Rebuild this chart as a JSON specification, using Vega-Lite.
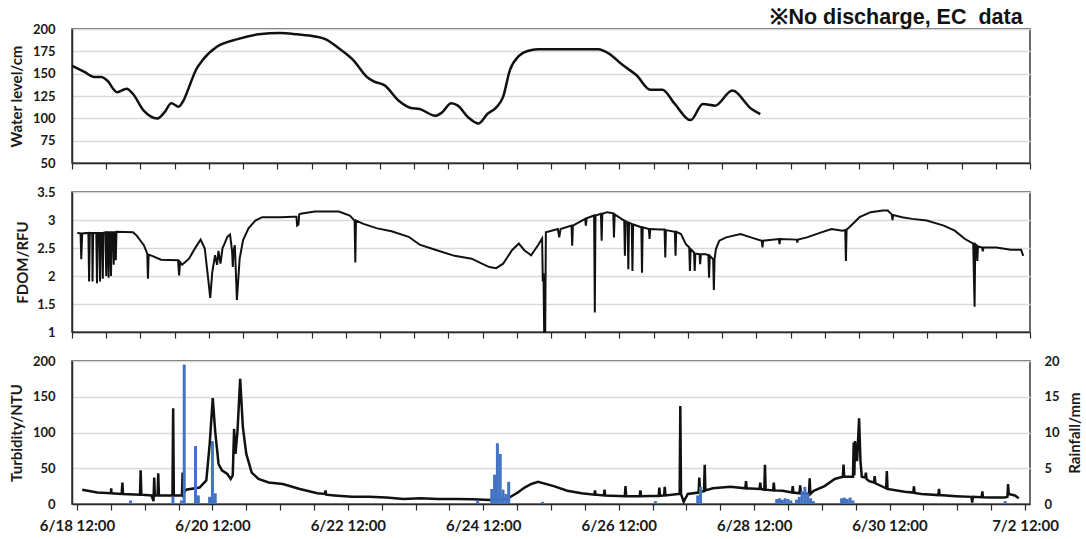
{
  "$schema": "https://vega.github.io/schema/vega-lite/v6.json",
  "padding": {"left": 8, "top": 5, "right": 4, "bottom": 4},
  "background": "white",
  "spacing": 14,
  "config": {
    "font": "Lato",
    "view": {"stroke": "#3a3a3a", "strokeWidth": 1.5},
    "axis": {
      "labelFont": "Lato", "labelFontWeight": "bold", "labelColor": "#1a1a1a",
      "titleFont": "Lato", "titleFontWeight": "bold", "titleColor": "#1a1a1a",
      "domainColor": "#2a2a2a", "domainWidth": 1.5, "tickColor": "#2a2a2a", "tickWidth": 1.2,
      "gridColor": "#d9d9d9", "gridWidth": 1.5
    }
  },
  "datasets": {
    "wl": [
      {"t": "2020-06-18T12:00", "v": 159}, {"t": "2020-06-18T16:20", "v": 152}, {"t": "2020-06-18T19:55", "v": 146.3},
      {"t": "2020-06-18T22:20", "v": 146.3}, {"t": "2020-06-19T00:15", "v": 142.6}, {"t": "2020-06-19T03:50", "v": 129.3},
      {"t": "2020-06-19T07:10", "v": 133.1}, {"t": "2020-06-19T09:20", "v": 127.5}, {"t": "2020-06-19T13:10", "v": 108.6},
      {"t": "2020-06-19T18:00", "v": 99.9}, {"t": "2020-06-19T20:25", "v": 106.7}, {"t": "2020-06-19T22:50", "v": 116.9},
      {"t": "2020-06-20T01:25", "v": 113.1}, {"t": "2020-06-20T03:05", "v": 119.9}, {"t": "2020-06-20T05:30", "v": 138.8},
      {"t": "2020-06-20T07:25", "v": 153.9}, {"t": "2020-06-20T09:50", "v": 165.2}, {"t": "2020-06-20T14:55", "v": 180.3},
      {"t": "2020-06-20T22:05", "v": 188.7}, {"t": "2020-06-21T05:30", "v": 194}, {"t": "2020-06-21T13:00", "v": 195.5},
      {"t": "2020-06-21T19:00", "v": 194}, {"t": "2020-06-22T01:10", "v": 191.7}, {"t": "2020-06-22T04:50", "v": 188.7},
      {"t": "2020-06-22T09:35", "v": 178.5}, {"t": "2020-06-22T14:40", "v": 165.2}, {"t": "2020-06-22T19:25", "v": 146.3},
      {"t": "2020-06-22T21:50", "v": 141.4}, {"t": "2020-06-23T01:40", "v": 136.9}, {"t": "2020-06-23T06:30", "v": 119.9},
      {"t": "2020-06-23T10:50", "v": 111.6}, {"t": "2020-06-23T13:55", "v": 110.5}, {"t": "2020-06-23T19:25", "v": 102.9},
      {"t": "2020-06-23T21:50", "v": 106.7}, {"t": "2020-06-24T01:00", "v": 116.9}, {"t": "2020-06-24T03:20", "v": 114.2},
      {"t": "2020-06-24T07:00", "v": 101}, {"t": "2020-06-24T10:35", "v": 94.2}, {"t": "2020-06-24T13:40", "v": 104.8},
      {"t": "2020-06-24T16:50", "v": 112.3}, {"t": "2020-06-24T19:10", "v": 123.7}, {"t": "2020-06-24T21:35", "v": 153.9},
      {"t": "2020-06-25T00:45", "v": 169.8}, {"t": "2020-06-25T03:50", "v": 175.4}, {"t": "2020-06-25T07:25", "v": 177.3},
      {"t": "2020-06-25T21:05", "v": 177.3}, {"t": "2020-06-26T04:35", "v": 177.3}, {"t": "2020-06-26T08:10", "v": 172.8},
      {"t": "2020-06-26T13:10", "v": 159.6}, {"t": "2020-06-26T18:00", "v": 148.2}, {"t": "2020-06-26T22:50", "v": 132},
      {"t": "2020-06-27T03:05", "v": 132}, {"t": "2020-06-27T07:25", "v": 116.1}, {"t": "2020-06-27T13:00", "v": 98},
      {"t": "2020-06-27T17:15", "v": 116.1}, {"t": "2020-06-27T21:35", "v": 114.2}, {"t": "2020-06-28T03:35", "v": 131.2},
      {"t": "2020-06-28T10:20", "v": 110.5}, {"t": "2020-06-28T13:25", "v": 104.8}
    ],
    "fdom": [
      {"t": "2020-06-18T13:50", "v": 2.77}, {"t": "2020-06-18T15:00", "v": 2.76}, {"t": "2020-06-18T15:15", "v": 2.30},
      {"t": "2020-06-18T15:35", "v": 2.76}, {"t": "2020-06-18T17:45", "v": 2.77}, {"t": "2020-06-18T18:00", "v": 1.90},
      {"t": "2020-06-18T18:15", "v": 2.77}, {"t": "2020-06-18T19:05", "v": 2.77}, {"t": "2020-06-18T19:12", "v": 1.90},
      {"t": "2020-06-18T19:26", "v": 2.77}, {"t": "2020-06-18T20:31", "v": 2.77}, {"t": "2020-06-18T20:46", "v": 1.87},
      {"t": "2020-06-18T21:00", "v": 2.77}, {"t": "2020-06-18T21:36", "v": 2.77}, {"t": "2020-06-18T21:50", "v": 1.90},
      {"t": "2020-06-18T22:05", "v": 2.77}, {"t": "2020-06-18T22:34", "v": 2.77}, {"t": "2020-06-18T22:48", "v": 1.95},
      {"t": "2020-06-18T23:02", "v": 2.77}, {"t": "2020-06-18T23:46", "v": 2.78}, {"t": "2020-06-19T00:00", "v": 2.00},
      {"t": "2020-06-19T00:14", "v": 2.78}, {"t": "2020-06-19T00:36", "v": 2.78}, {"t": "2020-06-19T00:50", "v": 1.97},
      {"t": "2020-06-19T01:05", "v": 2.78}, {"t": "2020-06-19T01:26", "v": 2.78}, {"t": "2020-06-19T01:41", "v": 2.00},
      {"t": "2020-06-19T01:55", "v": 2.78}, {"t": "2020-06-19T02:24", "v": 2.78}, {"t": "2020-06-19T02:38", "v": 2.20},
      {"t": "2020-06-19T02:53", "v": 2.78}, {"t": "2020-06-19T03:14", "v": 2.78}, {"t": "2020-06-19T03:22", "v": 2.28},
      {"t": "2020-06-19T03:36", "v": 2.79}, {"t": "2020-06-19T09:22", "v": 2.78}, {"t": "2020-06-19T10:34", "v": 2.73},
      {"t": "2020-06-19T13:12", "v": 2.55}, {"t": "2020-06-19T14:24", "v": 2.40}, {"t": "2020-06-19T14:38", "v": 1.95},
      {"t": "2020-06-19T14:53", "v": 2.38}, {"t": "2020-06-19T16:05", "v": 2.36}, {"t": "2020-06-19T19:12", "v": 2.29},
      {"t": "2020-06-20T01:12", "v": 2.28}, {"t": "2020-06-20T01:34", "v": 2.01}, {"t": "2020-06-20T01:55", "v": 2.25},
      {"t": "2020-06-20T02:38", "v": 2.20}, {"t": "2020-06-20T05:02", "v": 2.31}, {"t": "2020-06-20T07:26", "v": 2.52},
      {"t": "2020-06-20T09:07", "v": 2.65}, {"t": "2020-06-20T10:34", "v": 2.49}, {"t": "2020-06-20T11:46", "v": 1.95},
      {"t": "2020-06-20T12:29", "v": 1.61}, {"t": "2020-06-20T13:12", "v": 2.07}, {"t": "2020-06-20T14:10", "v": 2.37},
      {"t": "2020-06-20T14:53", "v": 2.20}, {"t": "2020-06-20T15:22", "v": 2.45}, {"t": "2020-06-20T16:05", "v": 2.22},
      {"t": "2020-06-20T16:48", "v": 2.50}, {"t": "2020-06-20T17:17", "v": 2.55}, {"t": "2020-06-20T18:29", "v": 2.70},
      {"t": "2020-06-20T19:26", "v": 2.74}, {"t": "2020-06-20T20:10", "v": 2.43}, {"t": "2020-06-20T20:24", "v": 2.16},
      {"t": "2020-06-20T20:38", "v": 2.45}, {"t": "2020-06-20T21:07", "v": 2.55}, {"t": "2020-06-20T21:50", "v": 1.57},
      {"t": "2020-06-20T22:48", "v": 2.31}, {"t": "2020-06-21T00:00", "v": 2.64}, {"t": "2020-06-21T01:55", "v": 2.85},
      {"t": "2020-06-21T04:19", "v": 2.99}, {"t": "2020-06-21T06:43", "v": 3.05}, {"t": "2020-06-21T12:58", "v": 3.05},
      {"t": "2020-06-21T17:46", "v": 3.06}, {"t": "2020-06-21T18:43", "v": 3.06}, {"t": "2020-06-21T18:58", "v": 2.90},
      {"t": "2020-06-21T19:26", "v": 2.92}, {"t": "2020-06-21T19:41", "v": 3.10}, {"t": "2020-06-21T20:10", "v": 3.11},
      {"t": "2020-06-22T01:12", "v": 3.15}, {"t": "2020-06-22T09:36", "v": 3.15}, {"t": "2020-06-22T13:26", "v": 3.08},
      {"t": "2020-06-22T15:07", "v": 2.99}, {"t": "2020-06-22T15:22", "v": 2.24}, {"t": "2020-06-22T15:36", "v": 2.99},
      {"t": "2020-06-22T18:14", "v": 2.93}, {"t": "2020-06-22T23:02", "v": 2.85}, {"t": "2020-06-23T04:05", "v": 2.80},
      {"t": "2020-06-23T10:05", "v": 2.70}, {"t": "2020-06-23T13:55", "v": 2.56}, {"t": "2020-06-23T19:55", "v": 2.46},
      {"t": "2020-06-24T02:10", "v": 2.36}, {"t": "2020-06-24T08:10", "v": 2.31}, {"t": "2020-06-24T11:46", "v": 2.22},
      {"t": "2020-06-24T14:24", "v": 2.16}, {"t": "2020-06-24T16:48", "v": 2.14}, {"t": "2020-06-24T19:12", "v": 2.22},
      {"t": "2020-06-24T22:19", "v": 2.46}, {"t": "2020-06-25T00:43", "v": 2.58}, {"t": "2020-06-25T02:38", "v": 2.46},
      {"t": "2020-06-25T05:02", "v": 2.37}, {"t": "2020-06-25T07:26", "v": 2.55}, {"t": "2020-06-25T08:53", "v": 2.67},
      {"t": "2020-06-25T09:07", "v": 1.90}, {"t": "2020-06-25T09:22", "v": 2.05}, {"t": "2020-06-25T09:36", "v": 1.00},
      {"t": "2020-06-25T09:58", "v": 1.00}, {"t": "2020-06-25T10:12", "v": 2.78}, {"t": "2020-06-25T14:24", "v": 2.84},
      {"t": "2020-06-25T14:53", "v": 2.69}, {"t": "2020-06-25T15:22", "v": 2.84}, {"t": "2020-06-25T19:12", "v": 2.90},
      {"t": "2020-06-25T19:26", "v": 2.54}, {"t": "2020-06-25T19:41", "v": 2.90}, {"t": "2020-06-26T00:00", "v": 3.02},
      {"t": "2020-06-26T00:14", "v": 2.90}, {"t": "2020-06-26T00:29", "v": 3.03}, {"t": "2020-06-26T03:07", "v": 3.08},
      {"t": "2020-06-26T03:22", "v": 1.35}, {"t": "2020-06-26T03:36", "v": 3.08}, {"t": "2020-06-26T05:31", "v": 3.11},
      {"t": "2020-06-26T05:46", "v": 2.63}, {"t": "2020-06-26T06:00", "v": 3.11}, {"t": "2020-06-26T07:41", "v": 3.14},
      {"t": "2020-06-26T09:50", "v": 3.12}, {"t": "2020-06-26T10:05", "v": 2.69}, {"t": "2020-06-26T10:19", "v": 3.10},
      {"t": "2020-06-26T12:43", "v": 3.02}, {"t": "2020-06-26T13:41", "v": 2.99}, {"t": "2020-06-26T13:55", "v": 2.36},
      {"t": "2020-06-26T14:10", "v": 2.98}, {"t": "2020-06-26T14:53", "v": 2.96}, {"t": "2020-06-26T15:07", "v": 2.12},
      {"t": "2020-06-26T15:22", "v": 2.95}, {"t": "2020-06-26T16:19", "v": 2.93}, {"t": "2020-06-26T16:34", "v": 2.09},
      {"t": "2020-06-26T16:48", "v": 2.92}, {"t": "2020-06-26T19:41", "v": 2.87}, {"t": "2020-06-26T19:55", "v": 2.06},
      {"t": "2020-06-26T20:10", "v": 2.87}, {"t": "2020-06-26T22:19", "v": 2.84}, {"t": "2020-06-26T22:34", "v": 2.66},
      {"t": "2020-06-26T22:48", "v": 2.84}, {"t": "2020-06-27T02:10", "v": 2.83}, {"t": "2020-06-27T03:50", "v": 2.83},
      {"t": "2020-06-27T04:05", "v": 2.33}, {"t": "2020-06-27T04:19", "v": 2.82}, {"t": "2020-06-27T07:26", "v": 2.79},
      {"t": "2020-06-27T07:41", "v": 2.36}, {"t": "2020-06-27T07:55", "v": 2.79}, {"t": "2020-06-27T09:36", "v": 2.75},
      {"t": "2020-06-27T11:17", "v": 2.57}, {"t": "2020-06-27T12:29", "v": 2.51}, {"t": "2020-06-27T12:43", "v": 2.09},
      {"t": "2020-06-27T12:58", "v": 2.48}, {"t": "2020-06-27T14:10", "v": 2.42}, {"t": "2020-06-27T14:24", "v": 2.09},
      {"t": "2020-06-27T14:38", "v": 2.40}, {"t": "2020-06-27T16:05", "v": 2.39}, {"t": "2020-06-27T16:19", "v": 2.21},
      {"t": "2020-06-27T16:34", "v": 2.39}, {"t": "2020-06-27T18:14", "v": 2.39}, {"t": "2020-06-27T19:12", "v": 2.37},
      {"t": "2020-06-27T19:26", "v": 1.97}, {"t": "2020-06-27T19:41", "v": 2.36}, {"t": "2020-06-27T20:53", "v": 2.30},
      {"t": "2020-06-27T21:07", "v": 1.75}, {"t": "2020-06-27T21:22", "v": 2.30}, {"t": "2020-06-27T21:50", "v": 2.48},
      {"t": "2020-06-27T23:02", "v": 2.63}, {"t": "2020-06-28T01:26", "v": 2.69}, {"t": "2020-06-28T06:29", "v": 2.75},
      {"t": "2020-06-28T10:05", "v": 2.69}, {"t": "2020-06-28T13:55", "v": 2.63}, {"t": "2020-06-28T14:10", "v": 2.51},
      {"t": "2020-06-28T14:24", "v": 2.63}, {"t": "2020-06-28T19:55", "v": 2.66}, {"t": "2020-06-28T20:10", "v": 2.57},
      {"t": "2020-06-28T20:24", "v": 2.66}, {"t": "2020-06-29T02:10", "v": 2.65}, {"t": "2020-06-29T02:24", "v": 2.60},
      {"t": "2020-06-29T02:38", "v": 2.65}, {"t": "2020-06-29T05:46", "v": 2.69}, {"t": "2020-06-29T10:48", "v": 2.78},
      {"t": "2020-06-29T14:24", "v": 2.84}, {"t": "2020-06-29T18:14", "v": 2.81}, {"t": "2020-06-29T19:12", "v": 2.82},
      {"t": "2020-06-29T19:26", "v": 2.27}, {"t": "2020-06-29T19:41", "v": 2.83}, {"t": "2020-06-29T20:38", "v": 2.87},
      {"t": "2020-06-30T00:14", "v": 3.05}, {"t": "2020-06-30T04:05", "v": 3.14}, {"t": "2020-06-30T08:24", "v": 3.17},
      {"t": "2020-06-30T10:05", "v": 3.17}, {"t": "2020-06-30T11:31", "v": 3.10}, {"t": "2020-06-30T11:46", "v": 3.00},
      {"t": "2020-06-30T12:00", "v": 3.09}, {"t": "2020-06-30T15:07", "v": 3.05}, {"t": "2020-06-30T18:43", "v": 3.02},
      {"t": "2020-06-30T23:46", "v": 2.99}, {"t": "2020-07-01T05:46", "v": 2.90}, {"t": "2020-07-01T09:36", "v": 2.81},
      {"t": "2020-07-01T13:12", "v": 2.66}, {"t": "2020-07-01T16:05", "v": 2.58}, {"t": "2020-07-01T16:34", "v": 1.45},
      {"t": "2020-07-01T16:48", "v": 2.57}, {"t": "2020-07-01T17:17", "v": 2.55}, {"t": "2020-07-01T17:31", "v": 2.27},
      {"t": "2020-07-01T17:46", "v": 2.53}, {"t": "2020-07-01T19:12", "v": 2.51}, {"t": "2020-07-01T19:26", "v": 2.44},
      {"t": "2020-07-01T19:41", "v": 2.51}, {"t": "2020-07-02T00:14", "v": 2.51}, {"t": "2020-07-02T05:17", "v": 2.47},
      {"t": "2020-07-02T08:53", "v": 2.47}, {"t": "2020-07-02T09:36", "v": 2.36}
    ],
    "turb": [
      {"t": "2020-06-18T13:51", "v": 20}, {"t": "2020-06-18T19:12", "v": 16}, {"t": "2020-06-19T00:00", "v": 15},
      {"t": "2020-06-19T00:07", "v": 22}, {"t": "2020-06-19T00:14", "v": 15}, {"t": "2020-06-19T03:50", "v": 14},
      {"t": "2020-06-19T04:05", "v": 30}, {"t": "2020-06-19T04:19", "v": 14}, {"t": "2020-06-19T10:19", "v": 13},
      {"t": "2020-06-19T10:34", "v": 47}, {"t": "2020-06-19T10:48", "v": 13}, {"t": "2020-06-19T14:24", "v": 12},
      {"t": "2020-06-19T15:07", "v": 4}, {"t": "2020-06-19T15:22", "v": 37}, {"t": "2020-06-19T15:36", "v": 12},
      {"t": "2020-06-19T16:34", "v": 12}, {"t": "2020-06-19T16:48", "v": 43}, {"t": "2020-06-19T17:02", "v": 12},
      {"t": "2020-06-19T21:50", "v": 12}, {"t": "2020-06-19T22:05", "v": 134}, {"t": "2020-06-19T22:19", "v": 12},
      {"t": "2020-06-20T01:12", "v": 12}, {"t": "2020-06-20T01:26", "v": 44}, {"t": "2020-06-20T01:41", "v": 14},
      {"t": "2020-06-20T02:38", "v": 20}, {"t": "2020-06-20T07:26", "v": 23}, {"t": "2020-06-20T09:50", "v": 33},
      {"t": "2020-06-20T11:02", "v": 84}, {"t": "2020-06-20T12:07", "v": 148}, {"t": "2020-06-20T12:58", "v": 102},
      {"t": "2020-06-20T14:10", "v": 56}, {"t": "2020-06-20T15:22", "v": 47}, {"t": "2020-06-20T17:17", "v": 42},
      {"t": "2020-06-20T18:29", "v": 35}, {"t": "2020-06-20T19:12", "v": 40}, {"t": "2020-06-20T19:41", "v": 105},
      {"t": "2020-06-20T20:10", "v": 70}, {"t": "2020-06-20T20:53", "v": 102}, {"t": "2020-06-20T21:50", "v": 175},
      {"t": "2020-06-20T22:48", "v": 107}, {"t": "2020-06-21T00:00", "v": 70}, {"t": "2020-06-21T01:55", "v": 44},
      {"t": "2020-06-21T04:19", "v": 35}, {"t": "2020-06-21T07:55", "v": 30}, {"t": "2020-06-21T12:58", "v": 28},
      {"t": "2020-06-21T18:58", "v": 21}, {"t": "2020-06-22T01:12", "v": 15}, {"t": "2020-06-22T03:50", "v": 14},
      {"t": "2020-06-22T04:05", "v": 19}, {"t": "2020-06-22T04:19", "v": 13}, {"t": "2020-06-22T07:12", "v": 12},
      {"t": "2020-06-22T13:26", "v": 10}, {"t": "2020-06-22T19:26", "v": 10}, {"t": "2020-06-23T01:41", "v": 9},
      {"t": "2020-06-23T07:41", "v": 7}, {"t": "2020-06-23T13:55", "v": 8}, {"t": "2020-06-23T19:55", "v": 7},
      {"t": "2020-06-24T02:10", "v": 7}, {"t": "2020-06-24T08:10", "v": 6.5}, {"t": "2020-06-24T14:24", "v": 5.5},
      {"t": "2020-06-24T20:24", "v": 7}, {"t": "2020-06-25T00:14", "v": 16}, {"t": "2020-06-25T02:38", "v": 23},
      {"t": "2020-06-25T05:02", "v": 28}, {"t": "2020-06-25T07:26", "v": 31}, {"t": "2020-06-25T12:58", "v": 25},
      {"t": "2020-06-25T17:46", "v": 18.5}, {"t": "2020-06-25T22:48", "v": 15}, {"t": "2020-06-26T03:22", "v": 13},
      {"t": "2020-06-26T03:36", "v": 19}, {"t": "2020-06-26T03:50", "v": 13}, {"t": "2020-06-26T06:43", "v": 12},
      {"t": "2020-06-26T06:58", "v": 20}, {"t": "2020-06-26T07:12", "v": 12}, {"t": "2020-06-26T14:10", "v": 11},
      {"t": "2020-06-26T14:24", "v": 25}, {"t": "2020-06-26T14:38", "v": 11}, {"t": "2020-06-26T19:26", "v": 11},
      {"t": "2020-06-26T19:41", "v": 19}, {"t": "2020-06-26T19:55", "v": 11}, {"t": "2020-06-27T02:10", "v": 11.5},
      {"t": "2020-06-27T02:24", "v": 23}, {"t": "2020-06-27T02:38", "v": 11.5}, {"t": "2020-06-27T04:05", "v": 12},
      {"t": "2020-06-27T04:19", "v": 24}, {"t": "2020-06-27T04:34", "v": 12}, {"t": "2020-06-27T09:07", "v": 14},
      {"t": "2020-06-27T09:36", "v": 14}, {"t": "2020-06-27T09:50", "v": 137}, {"t": "2020-06-27T10:05", "v": 14},
      {"t": "2020-06-27T11:02", "v": 3}, {"t": "2020-06-27T12:29", "v": 14}, {"t": "2020-06-27T16:19", "v": 16},
      {"t": "2020-06-27T16:34", "v": 37}, {"t": "2020-06-27T16:48", "v": 17}, {"t": "2020-06-27T18:14", "v": 18},
      {"t": "2020-06-27T18:29", "v": 55}, {"t": "2020-06-27T18:43", "v": 19}, {"t": "2020-06-27T21:22", "v": 22},
      {"t": "2020-06-28T03:36", "v": 24}, {"t": "2020-06-28T08:53", "v": 22}, {"t": "2020-06-28T09:07", "v": 32},
      {"t": "2020-06-28T09:22", "v": 22}, {"t": "2020-06-28T13:55", "v": 21}, {"t": "2020-06-28T14:10", "v": 30},
      {"t": "2020-06-28T14:24", "v": 21}, {"t": "2020-06-28T15:36", "v": 20}, {"t": "2020-06-28T15:50", "v": 55},
      {"t": "2020-06-28T16:05", "v": 20}, {"t": "2020-06-28T18:43", "v": 19}, {"t": "2020-06-28T18:58", "v": 30},
      {"t": "2020-06-28T19:12", "v": 19}, {"t": "2020-06-28T22:05", "v": 18.5}, {"t": "2020-06-29T01:26", "v": 16},
      {"t": "2020-06-29T01:41", "v": 25}, {"t": "2020-06-29T01:55", "v": 16}, {"t": "2020-06-29T04:05", "v": 15},
      {"t": "2020-06-29T04:19", "v": 26}, {"t": "2020-06-29T04:34", "v": 15}, {"t": "2020-06-29T07:26", "v": 14},
      {"t": "2020-06-29T07:41", "v": 36}, {"t": "2020-06-29T07:55", "v": 14}, {"t": "2020-06-29T09:07", "v": 18.5},
      {"t": "2020-06-29T12:58", "v": 25}, {"t": "2020-06-29T16:34", "v": 35}, {"t": "2020-06-29T19:26", "v": 38},
      {"t": "2020-06-29T19:41", "v": 55}, {"t": "2020-06-29T19:55", "v": 38}, {"t": "2020-06-29T23:02", "v": 38},
      {"t": "2020-06-29T23:17", "v": 86}, {"t": "2020-06-29T23:31", "v": 40}, {"t": "2020-06-29T23:46", "v": 88},
      {"t": "2020-06-30T00:29", "v": 60}, {"t": "2020-06-30T01:12", "v": 120}, {"t": "2020-06-30T01:41", "v": 60},
      {"t": "2020-06-30T02:10", "v": 38}, {"t": "2020-06-30T03:22", "v": 37}, {"t": "2020-06-30T03:36", "v": 44},
      {"t": "2020-06-30T03:50", "v": 35}, {"t": "2020-06-30T04:48", "v": 32}, {"t": "2020-06-30T06:29", "v": 30},
      {"t": "2020-06-30T06:43", "v": 39}, {"t": "2020-06-30T06:58", "v": 29}, {"t": "2020-06-30T10:48", "v": 22},
      {"t": "2020-06-30T11:02", "v": 46}, {"t": "2020-06-30T11:17", "v": 21}, {"t": "2020-06-30T17:17", "v": 17},
      {"t": "2020-06-30T20:24", "v": 16}, {"t": "2020-06-30T20:38", "v": 24.5}, {"t": "2020-06-30T20:53", "v": 15.5},
      {"t": "2020-06-30T23:17", "v": 14}, {"t": "2020-07-01T05:17", "v": 12.5}, {"t": "2020-07-01T05:31", "v": 21},
      {"t": "2020-07-01T05:46", "v": 12.5}, {"t": "2020-07-01T11:31", "v": 11}, {"t": "2020-07-01T17:02", "v": 10},
      {"t": "2020-07-01T17:17", "v": 2}, {"t": "2020-07-01T17:31", "v": 10}, {"t": "2020-07-01T20:38", "v": 9.5},
      {"t": "2020-07-01T20:53", "v": 17.6}, {"t": "2020-07-01T21:07", "v": 9.5}, {"t": "2020-07-02T00:00", "v": 9},
      {"t": "2020-07-02T04:48", "v": 9}, {"t": "2020-07-02T05:46", "v": 10}, {"t": "2020-07-02T06:00", "v": 28},
      {"t": "2020-07-02T06:14", "v": 14}, {"t": "2020-07-02T08:24", "v": 12}, {"t": "2020-07-02T09:50", "v": 8}
    ],
    "rain": [
      {"t": "2020-06-19T07:00", "v": 0.5}, {"t": "2020-06-19T22:00", "v": 1.0}, {"t": "2020-06-20T01:00", "v": 0.5},
      {"t": "2020-06-20T02:00", "v": 19.5}, {"t": "2020-06-20T06:00", "v": 8.1}, {"t": "2020-06-20T07:00", "v": 1.2},
      {"t": "2020-06-20T11:00", "v": 1.0}, {"t": "2020-06-20T12:00", "v": 8.8}, {"t": "2020-06-20T13:00", "v": 1.5},
      {"t": "2020-06-24T10:00", "v": 0.5}, {"t": "2020-06-24T15:00", "v": 2.1}, {"t": "2020-06-24T16:00", "v": 4.1},
      {"t": "2020-06-24T17:00", "v": 8.5}, {"t": "2020-06-24T18:00", "v": 7.0}, {"t": "2020-06-24T19:00", "v": 2.0},
      {"t": "2020-06-24T20:00", "v": 1.4}, {"t": "2020-06-24T21:00", "v": 3.1}, {"t": "2020-06-25T09:00", "v": 0.3},
      {"t": "2020-06-27T01:00", "v": 0.4}, {"t": "2020-06-27T16:00", "v": 1.2}, {"t": "2020-06-27T17:00", "v": 2.4},
      {"t": "2020-06-28T20:00", "v": 0.7}, {"t": "2020-06-28T21:00", "v": 0.8}, {"t": "2020-06-28T22:00", "v": 0.6},
      {"t": "2020-06-28T23:00", "v": 0.8}, {"t": "2020-06-29T00:00", "v": 0.7}, {"t": "2020-06-29T01:00", "v": 0.5},
      {"t": "2020-06-29T03:00", "v": 0.6}, {"t": "2020-06-29T04:00", "v": 1.0}, {"t": "2020-06-29T05:00", "v": 1.8},
      {"t": "2020-06-29T06:00", "v": 2.4}, {"t": "2020-06-29T07:00", "v": 1.5}, {"t": "2020-06-29T08:00", "v": 0.8},
      {"t": "2020-06-29T09:00", "v": 0.4}, {"t": "2020-06-29T19:00", "v": 0.8}, {"t": "2020-06-29T20:00", "v": 0.9},
      {"t": "2020-06-29T21:00", "v": 0.7}, {"t": "2020-06-29T22:00", "v": 0.9}, {"t": "2020-06-29T23:00", "v": 0.5},
      {"t": "2020-07-02T05:00", "v": 0.4}
    ]
  },
  "vconcat": [
    {
      "width": 958, "height": 134,
      "title": {"text": "※No discharge, EC\u00a0 data", "anchor": "end", "font": "Liberation Sans", "fontWeight": "bold", "fontSize": 21.5, "color": "#111111", "offset": -5, "dx": -8},
      "data": {"name": "wl"},
      "mark": {"type": "line", "color": "#111111", "strokeWidth": 2.5, "interpolate": "monotone"},
      "encoding": {
        "x": {"field": "t", "type": "temporal",
          "scale": {"domain": [{"year": 2020, "month": 6, "date": 18, "hours": 12}, {"year": 2020, "month": 7, "date": 2, "hours": 12}], "nice": false},
          "axis": {"title": null, "labels": false, "grid": false, "tickCount": 28, "tickSize": 6}},
        "y": {"field": "v", "type": "quantitative",
          "scale": {"domain": [50, 200], "nice": false, "zero": false},
          "axis": {"title": "Water level/cm", "values": [50, 75, 100, 125, 150, 175, 200], "ticks": false, "labelPadding": 17, "labelFontSize": 13, "titleFontSize": 15, "titlePadding": 8}}
      }
    },
    {
      "width": 958, "height": 140,
      "data": {"name": "fdom"},
      "mark": {"type": "line", "color": "#111111", "strokeWidth": 2},
      "encoding": {
        "x": {"field": "t", "type": "temporal",
          "scale": {"domain": [{"year": 2020, "month": 6, "date": 18, "hours": 12}, {"year": 2020, "month": 7, "date": 2, "hours": 12}], "nice": false},
          "axis": {"title": null, "labels": false, "grid": false, "tickCount": 28, "tickSize": 6}},
        "y": {"field": "v", "type": "quantitative",
          "scale": {"domain": [1, 3.5], "nice": false, "zero": false},
          "axis": {"title": "FDOM/RFU", "values": [1, 1.5, 2, 2.5, 3, 3.5], "format": "~g", "ticks": false, "labelPadding": 17, "labelFontSize": 13, "titleFontSize": 15, "titlePadding": 6}}
      }
    },
    {
      "width": 958, "height": 143,
      "encoding": {
        "x": {"field": "t", "type": "temporal",
          "scale": {"domain": [{"year": 2020, "month": 6, "date": 18, "hours": 12}, {"year": 2020, "month": 7, "date": 2, "hours": 12}], "nice": false},
          "axis": {"title": null, "grid": false, "tickCount": 28, "tickSize": 6,
            "labelExpr": "hours(datum.value) == 12 && date(datum.value) % 2 == 0 ? timeFormat(datum.value, '%-m/%-d %H:%M') : ''",
            "labelOverlap": false, "labelFlush": false, "labelFontSize": 15, "labelPadding": 8}}
      },
      "layer": [
        {
          "data": {"name": "turb"},
          "mark": {"type": "line", "color": "#111111", "strokeWidth": 2.5},
          "encoding": {
            "y": {"field": "v", "type": "quantitative",
              "scale": {"domain": [0, 200], "nice": false},
              "axis": {"title": "Turbidity/NTU", "values": [0, 50, 100, 150, 200], "ticks": false, "labelPadding": 17, "labelFontSize": 13, "titleFontSize": 15, "titlePadding": 8}}
          }
        },
        {
          "data": {"name": "rain"},
          "mark": {"type": "bar", "color": "#4472C4", "size": 3},
          "encoding": {
            "y": {"field": "v", "type": "quantitative",
              "scale": {"domain": [0, 20], "nice": false},
              "axis": {"orient": "right", "title": "Rainfall/mm", "values": [0, 5, 10, 15, 20], "grid": false, "ticks": false, "domain": false, "labelPadding": 14, "labelFontSize": 13, "titleFontSize": 15, "titlePadding": 8, "titleAngle": 270, "titleBaseline": "top"}}
          }
        }
      ],
      "resolve": {"scale": {"y": "independent"}}
    }
  ]
}
